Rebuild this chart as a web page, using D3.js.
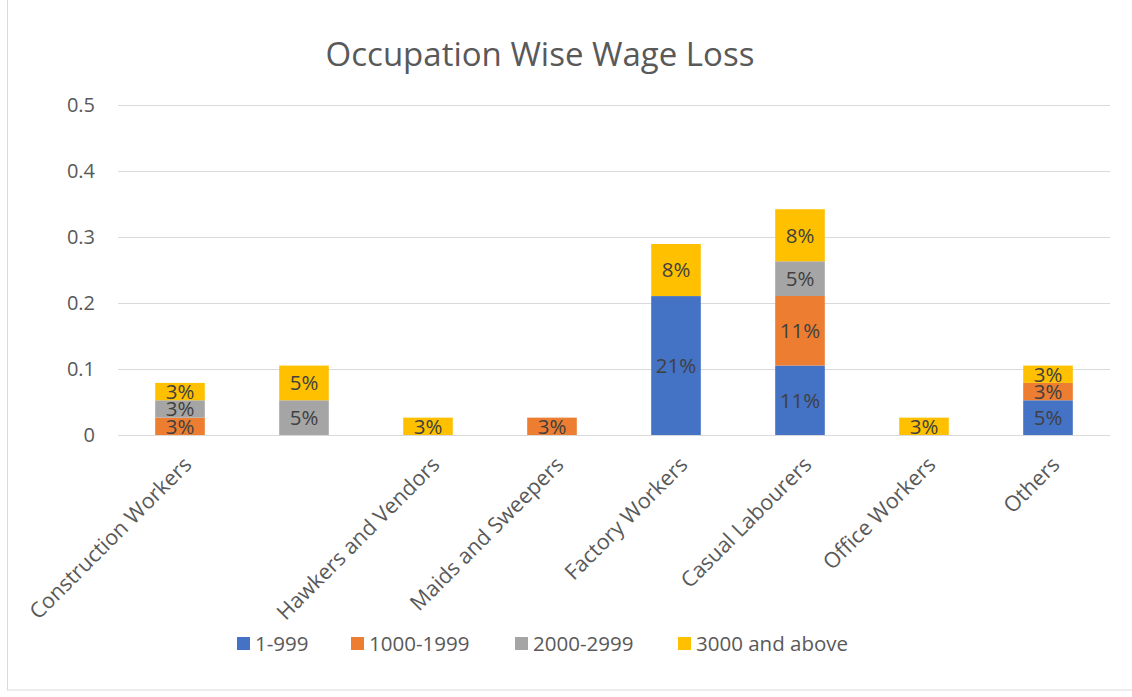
<!DOCTYPE html>
<html><head><meta charset="utf-8">
<script src="https://cdn.jsdelivr.net/npm/d3@7"></script>
<style>body{margin:0;background:#fff}svg{display:block}text{font-family:"Open Sans",sans-serif}</style>
</head><body><svg id="c" width="1132" height="697"></svg>
<script>
const categories = ["Construction Workers", "", "Hawkers and Vendors", "Maids and Sweepers", "Factory Workers", "Casual Labourers", "Office Workers", "Others"];
const seriesNames = ["1-999", "1000-1999", "2000-2999", "3000 and above"];
const seriesColors = ["#4472C4", "#ED7D31", "#A5A5A5", "#FFC000"];
const s1_999 = [0, 0, 0, 0, 0.2105, 0.1053, 0, 0.0526];
const s1000_1999 = [0.0263, 0, 0, 0.0263, 0, 0.1053, 0, 0.0263];
const s2000_2999 = [0.0263, 0.0526, 0, 0, 0, 0.0526, 0, 0];
const s3000_above = [0.0263, 0.0526, 0.0263, 0, 0.0789, 0.0789, 0.0263, 0.0263];
const yTicks = [0, 0.1, 0.2, 0.3, 0.4, 0.5];
const title = "Occupation Wise Wage Loss";

(function () {
const seriesVals = [s1_999, s1000_1999, s2000_2999, s3000_above];
const rows = categories.map((c, i) => {
  const r = {idx: i};
  seriesNames.forEach((s, j) => r[s] = seriesVals[j][i]);
  return r;
});
const stacked = d3.stack().keys(seriesNames)(rows);

const svg = d3.select("#c");
const pL = 118, pR = 1110, pT = 105, pB = 435;
const x = d3.scaleBand().domain(d3.range(categories.length)).range([pL, pR]).paddingInner(0.6).paddingOuter(0.3);
const y = d3.scaleLinear().domain([0, 0.5]).range([pB, pT]);

svg.append("rect").attr("x", 7.5).attr("y", -1).attr("width", 1140).attr("height", 691)
  .attr("fill", "none").attr("stroke", "#d9d9d9");

svg.append("text").attr("x", 540).attr("y", 66).attr("text-anchor", "middle")
  .attr("font-size", 33).attr("fill", "#595959").text(title);

svg.append("g").selectAll("line").data(yTicks).join("line")
  .attr("x1", pL).attr("x2", pR).attr("y1", d => Math.round(y(d)) + 0.5).attr("y2", d => Math.round(y(d)) + 0.5)
  .attr("stroke", "#d9d9d9").attr("stroke-width", 1);

const yAxis = svg.append("g").attr("transform", `translate(${pL},0)`)
  .call(d3.axisLeft(y).tickValues(yTicks).tickFormat(d3.format("")).tickSize(0).tickPadding(23));
yAxis.select(".domain").remove();
yAxis.selectAll("text").attr("font-size", 20).attr("fill", "#595959").attr("font-family", "Open Sans");

const fmt = d3.format(".0%");
stacked.forEach((layer, j) => {
  const g = svg.append("g");
  const segs = layer.filter(d => d[1] - d[0] > 0);
  g.selectAll("rect").data(segs).join("rect")
    .attr("x", d => x(d.data.idx)).attr("width", x.bandwidth())
    .attr("y", d => y(d[1])).attr("height", d => y(d[0]) - y(d[1]))
    .attr("fill", seriesColors[j]);
  g.selectAll("text").data(segs).join("text")
    .attr("x", d => x(d.data.idx) + x.bandwidth() / 2)
    .attr("y", d => (y(d[0]) + y(d[1])) / 2)
    .attr("dy", "0.36em").attr("text-anchor", "middle")
    .attr("font-size", 20.5).attr("fill", "#404040")
    .text(d => fmt(d[1] - d[0]));
});

svg.append("line").attr("x1", pL).attr("x2", pR).attr("y1", Math.round(y(0)) + 0.5).attr("y2", Math.round(y(0)) + 0.5)
  .attr("stroke", "#d9d9d9");

const xAxis = svg.append("g").attr("transform", `translate(0,${pB})`)
  .call(d3.axisBottom(x).tickFormat(i => categories[i]).tickSize(0));
xAxis.select(".domain").remove();
xAxis.selectAll("text")
  .attr("font-size", 21.5).attr("fill", "#595959").attr("font-family", "Open Sans")
  .attr("text-anchor", "end").attr("dy", null).attr("y", 0)
  .attr("transform", "translate(13,31) rotate(-45)");

const legX = [237, 351, 515, 678];
const leg = svg.append("g");
seriesNames.forEach((s, j) => {
  leg.append("rect").attr("x", legX[j]).attr("y", 637).attr("width", 13).attr("height", 13).attr("fill", seriesColors[j]);
  leg.append("text").attr("x", legX[j] + 18).attr("y", 651).attr("font-size", 20.5).attr("fill", "#595959").text(s);
});
})();
</script></body></html>
